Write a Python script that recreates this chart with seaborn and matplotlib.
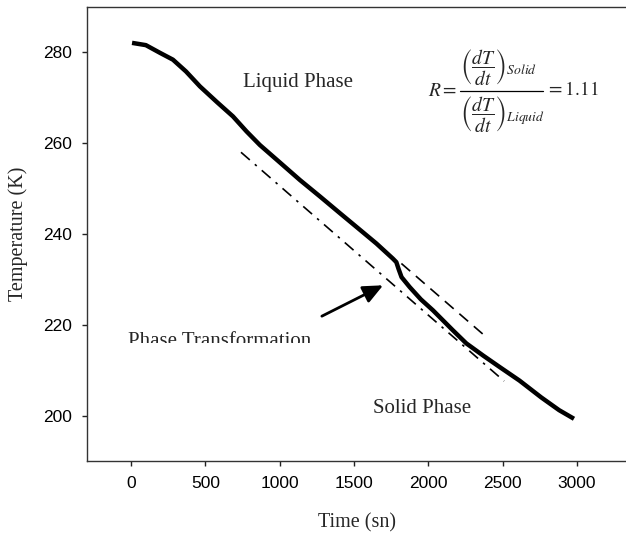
import matplotlib
matplotlib.use("Agg")
import matplotlib.pyplot as plt
import seaborn as sns
import pandas as pd
from matplotlib.patches import Rectangle
from matplotlib.lines import Line2D

# ---- data ----
time_s = [7, 100, 195, 282, 370, 464, 580, 686, 777, 867, 1000, 1136, 1270, 1405,
          1530, 1651, 1761, 1785, 1800, 1820, 1875, 1950, 2031, 2165, 2256, 2370,
          2480, 2614, 2760, 2880, 2980]
temp_k = [282.1, 281.6, 279.9, 278.4, 275.8, 272.5, 269.0, 265.9, 262.6, 259.6,
          255.8, 251.9, 248.3, 244.6, 241.2, 237.9, 234.6, 233.8, 232.3, 230.5,
          228.3, 225.6, 223.2, 218.8, 215.9, 213.2, 210.7, 207.7, 204.0, 201.2, 199.3]

liquid_fit_t = [740, 2510]
liquid_fit_T = [258.0, 207.6]
solid_fit_t = [1819, 2390]
solid_fit_T = [233.5, 217.3]

x_ticks = [0, 500, 1000, 1500, 2000, 2500, 3000]
y_ticks = [200, 220, 240, 260, 280]

sns.set_theme(style="ticks")
plt.rcParams['font.family'] = ['Liberation Sans', 'DejaVu Sans']
plt.rcParams['mathtext.fontset'] = 'stix'

W, H = 626, 535
fig = plt.figure(figsize=(W / 100, H / 100), dpi=100)
ax = fig.add_axes([87 / W, 1 - 461 / H, 1 - 87 / W, (461 - 7) / H])

df = pd.DataFrame({"t": time_s, "T": temp_k})
sns.lineplot(data=df, x="t", y="T", sort=False, estimator=None, ax=ax,
             color="black", linewidth=3.2, solid_capstyle="butt")
sns.lineplot(x=liquid_fit_t, y=liquid_fit_T, ax=ax, color="black", linewidth=1.2,
             linestyle=(0, (7, 4, 1.5, 4)))
sns.lineplot(x=solid_fit_t, y=solid_fit_T, ax=ax, color="black", linewidth=1.2,
             linestyle=(0, (7, 4.5)))

ax.set_xlim(-296, 3330)
ax.set_ylim(190, 290)
ax.set_xticks(x_ticks)
ax.set_yticks(y_ticks)
ax.tick_params(axis="both", direction="out", length=3.6, width=1, labelsize=12.5,
               colors="#222222", labelcolor="black", pad=7.5)
for s in ["left", "bottom", "top"]:
    ax.spines[s].set_color("#333333")
    ax.spines[s].set_linewidth(1.0)
ax.spines["right"].set_visible(False)

serif = ['Liberation Serif', 'DejaVu Serif']
ax.set_xlabel("Time (sn)", family=serif, fontsize=14.5)
ax.set_ylabel("Temperature (K)", family=serif, fontsize=14.5)
ax.xaxis.set_label_coords(0.5, -(513 - 461) / 454)
ax.yaxis.set_label_coords((28 - 87) / 539, 0.5)

ax.text(753, 273.3, "Liquid Phase", family=serif, fontsize=15, va="center", ha="left")
ax.text(1626, 201.5, "Solid Phase", family=serif, fontsize=15, va="center", ha="left")
t = ax.text(-20, 215.4, "Phase Transformation", family=serif, fontsize=15,
            va="baseline", ha="left", clip_on=True)
t.set_clip_path(Rectangle((-300, 215.9), 3000, 20, transform=ax.transData))

ax.annotate("", xy=(1696, 228.7), xytext=(1284, 221.9),
            arrowprops=dict(arrowstyle="-|>,head_length=1.0,head_width=0.45",
                            color="black", lw=2.0, shrinkA=0, shrinkB=0))

# ---- formula R = (dT/dt)_Solid / (dT/dt)_Liquid = 1.11 ----
def fx(px):
    return px / W

def fy(py):
    return 1 - py / H

fs = 14
fig.text(fx(457), fy(91), r"$R=$", fontsize=fs, ha="right", va="center")
fig.text(fx(460), fy(88), r"$\left(\dfrac{dT}{dt}\right)_{Solid}$",
         fontsize=fs, ha="left", va="bottom")
fig.text(fx(460), fy(95), r"$\left(\dfrac{dT}{dt}\right)_{Liquid}$",
         fontsize=fs, ha="left", va="top")
fig.add_artist(Line2D([fx(460), fx(543)], [fy(91), fy(91)],
                      transform=fig.transFigure, color="black", lw=0.9))
fig.text(fx(546), fy(90), r"$=1.11$", fontsize=fs, ha="left", va="center")

fig.savefig("out.png", dpi=100)
